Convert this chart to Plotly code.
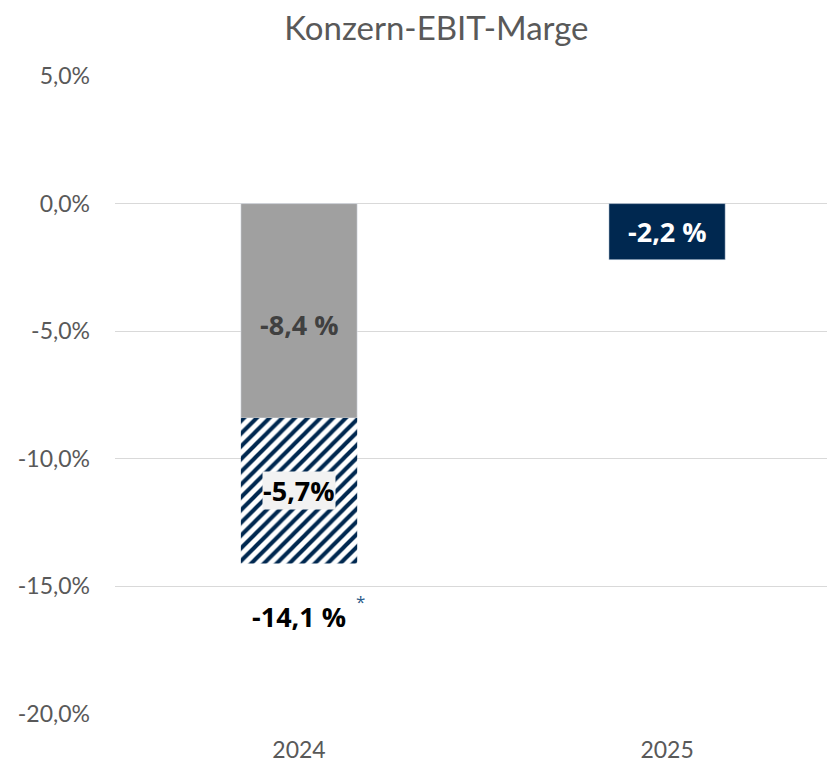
import plotly.graph_objects as go

years = ["2024", "2025"]
margin_base = [-8.4, None]        # reported EBIT margin 2024 (grey)
special_effects = [-5.7, None]    # hatched part 2024
margin_2025 = [None, -2.2]        # 2025 EBIT margin
total_2024 = -14.1
tick_vals = [5, 0, -5, -10, -15, -20]
tick_text = ["5,0%", "0,0%", "-5,0%", "-10,0%", "-15,0%", "-20,0%"]

NAVY = "#002850"
GREY = "#A0A0A0"
FONT = "Lato"
LFONT = "Open Sans"
LBL = 27

fig = go.Figure()
fig.add_trace(go.Bar(x=years, y=margin_base, marker_color=GREY, width=0.316,
                     hoverinfo="skip"))
fig.add_trace(go.Bar(x=years, y=special_effects, base=[margin_base[0], None], width=0.316,
                     marker=dict(color="white", line=dict(width=0),
                                 pattern=dict(shape="/", fgcolor=NAVY, bgcolor="white",
                                              fgopacity=1, fillmode="replace",
                                              size=9, solidity=0.45)),
                     hoverinfo="skip"))
fig.add_trace(go.Bar(x=years, y=margin_2025, marker_color=NAVY, width=0.316,
                     hoverinfo="skip"))

def fmt(v, space=True):
    s = f"{v:.1f}".replace(".", ",")
    return s + (" %" if space else "%")

anns = [
    dict(x=0, y=margin_base[0] / 2, text=f"<b>{fmt(margin_base[0])}</b>", yshift=-14,
         font=dict(size=LBL, color="#404040", family=LFONT), showarrow=False),
    dict(x=0, y=margin_base[0] + special_effects[0] / 2,
         text=f"<b>{fmt(special_effects[0], False)}</b>",
         font=dict(size=LBL, color="#000000", family=LFONT), showarrow=False,
         bgcolor="#F2F2F2", borderpad=0),
    dict(x=0, y=total_2024, text=f"<b>{fmt(total_2024)}</b>", yshift=-53,
         font=dict(size=LBL, color="#000000", family=LFONT), showarrow=False),
    dict(x=0, y=total_2024, text="*", xshift=61, yshift=-38,
         font=dict(size=17, color="#2E5C8A", family=LFONT), showarrow=False),
    dict(x=1, y=margin_2025[1] / 2, text=f"<b>{fmt(margin_2025[1])}</b>",
         font=dict(size=LBL, color="white", family=LFONT), showarrow=False),
]
for a in anns:
    a.update(xref="x", yref="y")

fig.update_layout(
    width=835, height=763,
    barmode="overlay",
    showlegend=False,
    plot_bgcolor="white", paper_bgcolor="white",
    margin=dict(l=107, r=0, t=68, b=57),
    title=dict(text="Konzern-EBIT-Marge", x=0.513, xanchor="center", y=0.973, yanchor="middle",
               font=dict(size=33, color="#595959", family=FONT)),
    xaxis=dict(type="category", range=[-0.5, 1.478], showgrid=False, showline=False, ticks="",
               ticklabelstandoff=20,
               tickfont=dict(size=23, color="#595959", family=FONT)),
    yaxis=dict(range=[-20, 5], tickvals=tick_vals, ticktext=tick_text,
               showgrid=True, gridcolor="#D9D9D9", gridwidth=1.3, zeroline=False,
               ticks="", ticklabelstandoff=24,
               tickfont=dict(size=23, color="#595959", family=FONT)),
    annotations=anns,
)

fig.write_html("out.html")
